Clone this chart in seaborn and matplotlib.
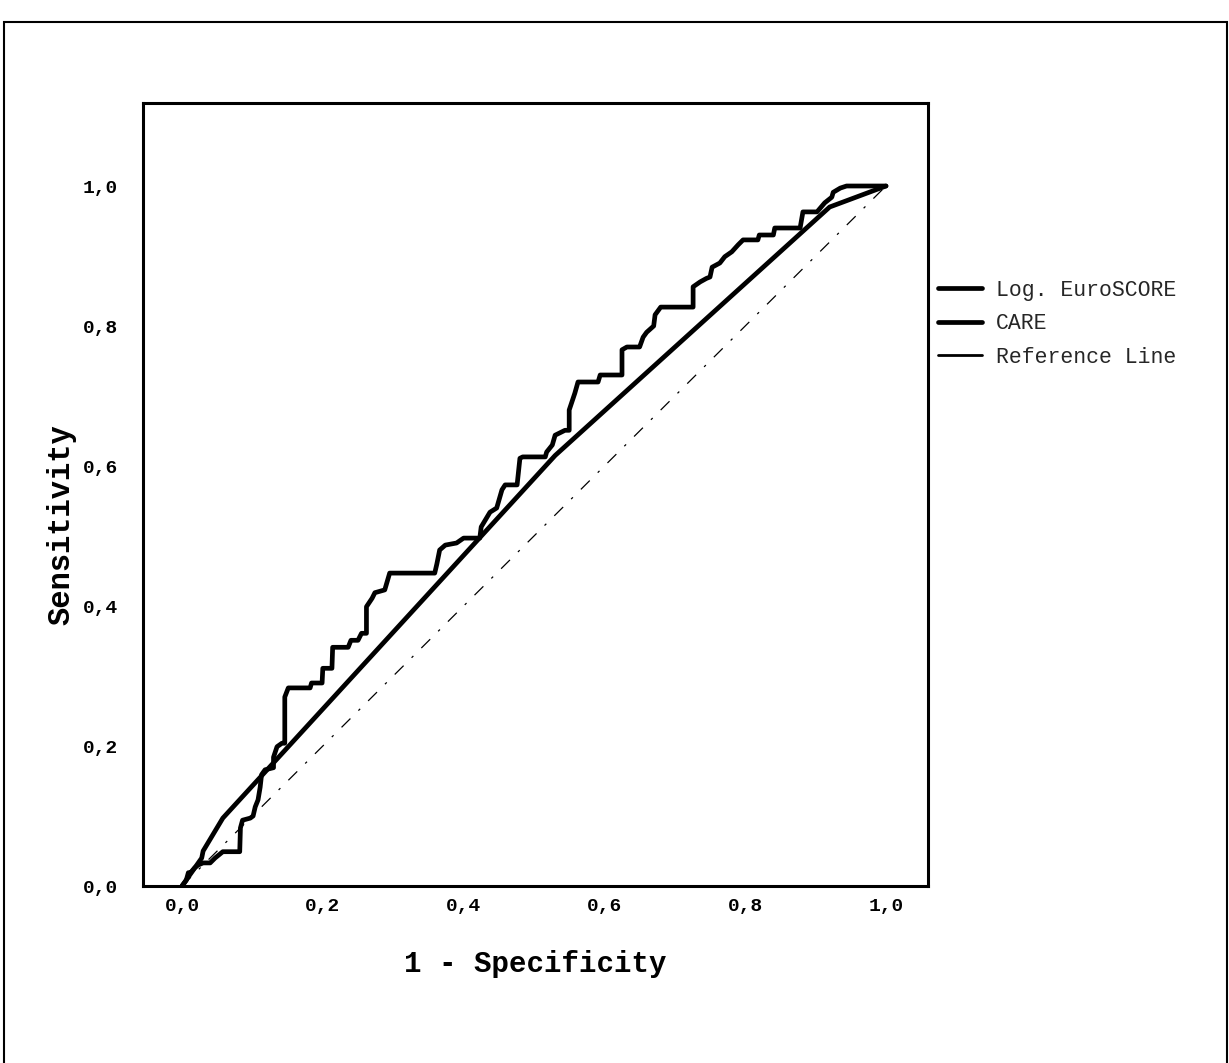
import numpy as np
import pandas as pd
import matplotlib
matplotlib.use("Agg")
import matplotlib.pyplot as plt
import seaborn as sns
from matplotlib.lines import Line2D
from matplotlib.patches import Rectangle

# ---- data ----
euro_x = [0.0, 0.006, 0.009, 0.012, 0.018, 0.023, 0.03, 0.04, 0.047, 0.058, 0.082, 0.083, 0.086, 0.097,
          0.101, 0.104, 0.108, 0.111, 0.113, 0.118, 0.13, 0.13, 0.135, 0.142, 0.146, 0.146, 0.151, 0.182,
          0.184, 0.199, 0.2, 0.213, 0.214, 0.236, 0.24, 0.25, 0.255, 0.262, 0.262, 0.27, 0.274, 0.288,
          0.295, 0.359, 0.362, 0.366, 0.374, 0.39, 0.4, 0.423, 0.425, 0.4375, 0.447, 0.4545, 0.459, 0.476,
          0.48, 0.484, 0.516, 0.518, 0.526, 0.53, 0.544, 0.55, 0.55, 0.558, 0.5625, 0.591, 0.594, 0.625,
          0.625, 0.632, 0.65, 0.655, 0.66, 0.67, 0.672, 0.68, 0.726, 0.726, 0.736, 0.745, 0.75, 0.753,
          0.764, 0.771, 0.781, 0.79, 0.797, 0.818, 0.82, 0.84, 0.842, 0.878, 0.882, 0.902, 0.913, 0.923,
          0.925, 0.935, 0.944, 1.0]
euro_y = [0.0, 0.008, 0.019, 0.019, 0.026, 0.03, 0.033, 0.033, 0.04, 0.049, 0.049, 0.083, 0.094, 0.097,
          0.1, 0.113, 0.123, 0.141, 0.159, 0.166, 0.169, 0.184, 0.199, 0.204, 0.204, 0.27, 0.283, 0.283,
          0.29, 0.29, 0.311, 0.311, 0.341, 0.341, 0.351, 0.351, 0.361, 0.361, 0.399, 0.411, 0.419, 0.423,
          0.447, 0.447, 0.46, 0.48, 0.487, 0.49, 0.497, 0.497, 0.513, 0.534, 0.54, 0.566, 0.573, 0.573,
          0.611, 0.613, 0.613, 0.62, 0.63, 0.644, 0.651, 0.651, 0.68, 0.704, 0.72, 0.72, 0.73, 0.73,
          0.766, 0.77, 0.77, 0.784, 0.791, 0.8, 0.816, 0.827, 0.827, 0.856, 0.863, 0.868, 0.87, 0.884,
          0.89, 0.899, 0.906, 0.916, 0.923, 0.923, 0.93, 0.93, 0.94, 0.94, 0.963, 0.963, 0.976, 0.984,
          0.991, 0.997, 1.0, 1.0]

care_x = [0.0, 0.028, 0.03, 0.058, 0.53, 0.92, 1.0]
care_y = [0.0, 0.04, 0.05, 0.097, 0.615, 0.97, 1.0]

ref_x = [0.0, 1.0]
ref_y = [0.0, 1.0]

series_names = ["Log. EuroSCORE", "CARE", "Reference Line"]
tick_vals = [0.0, 0.2, 0.4, 0.6, 0.8, 1.0]
tick_labels = ["0,0", "0,2", "0,4", "0,6", "0,8", "1,0"]

df = pd.concat([
    pd.DataFrame({"x": euro_x, "y": euro_y, "s": series_names[0]}),
    pd.DataFrame({"x": care_x, "y": care_y, "s": series_names[1]}),
])
ref_df = pd.DataFrame({"x": ref_x, "y": ref_y})

# ---- figure ----
sns.set_theme(style="white")
plt.rcParams["font.family"] = ["Liberation Mono", "DejaVu Sans"]

W, H = 1229, 1063
fig = plt.figure(figsize=(W / 100, H / 100), dpi=100)
fig.patch.set_facecolor("white")
ax = fig.add_axes([143 / W, 1 - 886 / H, (928 - 143) / W, (886 - 103) / H])

sns.lineplot(data=df, x="x", y="y", hue="s", estimator=None,
             sort=False, palette=["black", "black"], linewidth=3.4, ax=ax, legend=False)
sns.lineplot(data=ref_df, x="x", y="y", estimator=None, sort=False, color="black",
             linewidth=0.9, linestyle=(0, (10, 9, 2, 9)), ax=ax, legend=False)

x0 = -39 / 704
ax.set_xlim(x0, x0 + 785 / 704)
ax.set_ylim(0, 783 / 700)

ax.set_xticks(tick_vals)
ax.set_xticklabels(tick_labels)
ax.set_yticks(tick_vals)
ax.set_yticklabels(tick_labels)
ax.tick_params(axis="both", direction="out", width=2, color="black",
               labelsize=14, labelcolor="black")
ax.tick_params(axis="x", length=8, pad=1)
ax.tick_params(axis="y", length=10, pad=8)
for lab in ax.get_xticklabels() + ax.get_yticklabels():
    lab.set_fontweight("bold")
for sp in ax.spines.values():
    sp.set_visible(True)
    sp.set_color("black")
    sp.set_linewidth(2.2)

ax.set_xlabel("1 - Specificity", fontsize=21, fontweight="bold", color="black", labelpad=25)
ax.set_ylabel("Sensitivity", fontsize=22, fontweight="bold", color="black")
ax.yaxis.set_label_coords(-(143 - 76) / 785, (886 - 525) / 783)
ax.grid(False)

handles = [Line2D([0], [0], color="black", lw=3.4),
           Line2D([0], [0], color="black", lw=3.4),
           Line2D([0], [0], color="black", lw=2.0)]
fig.legend(handles, series_names, loc="upper left", bbox_to_anchor=(938 / W, 1 - 280 / H),
           frameon=False, fontsize=15.5, handlelength=2.05, handletextpad=0.65,
           labelspacing=0.58, borderpad=0, borderaxespad=0)

# outer frame of the scanned page
fig.patches.append(Rectangle((4 / W, -0.01), (W - 6) / W, (H - 22) / H + 0.01,
                             transform=fig.transFigure, fill=False, edgecolor="black",
                             linewidth=1.5))

fig.savefig("out.png", dpi=100, facecolor="white")
